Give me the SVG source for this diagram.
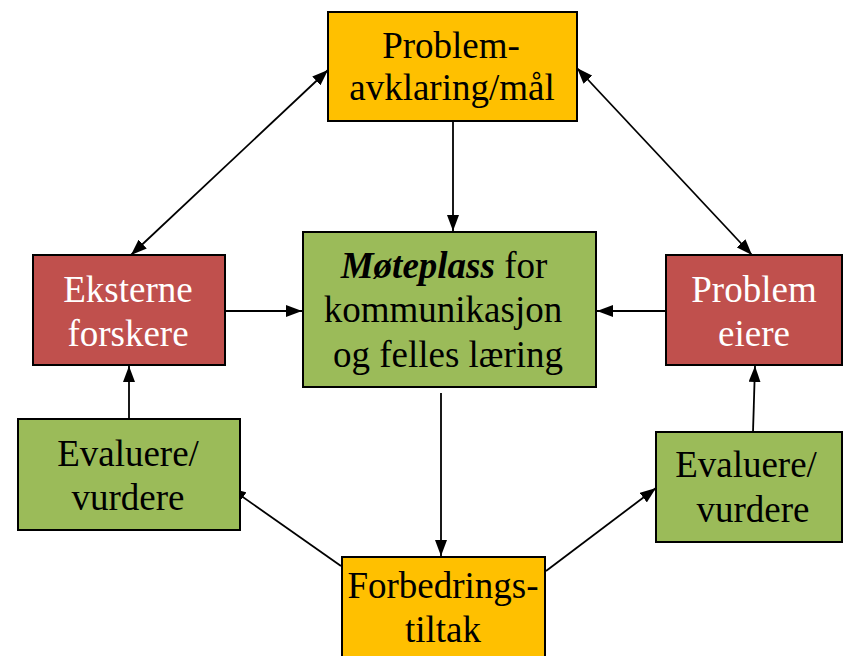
<svg xmlns="http://www.w3.org/2000/svg" width="843" height="656" viewBox="0 0 843 656">
<style>
.box{stroke:#000;stroke-width:2}
.y{fill:#FFC000}.g{fill:#9BBB59}.r{fill:#C0504D}
.w{fill:#fff}
.c{stroke:#000;stroke-width:1.8;fill:none}
</style>
<defs>
<marker id="ah" viewBox="0 0 16 12" refX="16" refY="6" markerWidth="16" markerHeight="12" markerUnits="userSpaceOnUse" orient="auto-start-reverse">
<path d="M0,0 L16,6 L0,12 Z" fill="#000"/>
</marker>
</defs>
<rect width="843" height="656" fill="#fff"/>
<g id="connectors">
<line class="c" x1="328" y1="70" x2="131" y2="255" marker-start="url(#ah)" marker-end="url(#ah)"/>
<line class="c" x1="577" y1="68" x2="752" y2="255" marker-start="url(#ah)" marker-end="url(#ah)"/>
<line class="c" x1="453" y1="122" x2="453" y2="231" marker-end="url(#ah)"/>
<line class="c" x1="226" y1="311" x2="302" y2="311" marker-end="url(#ah)"/>
<line class="c" x1="666" y1="311" x2="597" y2="311" marker-end="url(#ah)"/>
<line class="c" x1="441" y1="393" x2="441" y2="556" marker-end="url(#ah)"/>
<line class="c" x1="129" y1="419" x2="129" y2="366" marker-end="url(#ah)"/>
<line class="c" x1="753" y1="432" x2="755" y2="366" marker-end="url(#ah)"/>
<line class="c" x1="341" y1="566" x2="230" y2="488" marker-end="url(#ah)"/>
<line class="c" x1="546" y1="571" x2="656" y2="488" marker-end="url(#ah)"/>
</g>
<g font-family="'Liberation Serif', 'Times New Roman', 'DejaVu Serif', serif" font-size="37" text-anchor="middle" fill="#000">
<g id="problemavklaring">
<rect class="box y" x="328" y="12" width="249" height="109"/>
<text x="451" y="58">Problem-</text>
<text x="452" y="100">avklaring/mål</text>
</g>
<g id="moteplass">
<rect class="box g" x="303" y="232" width="293" height="155"/>
<text x="444" y="278"><tspan font-weight="bold" font-style="italic">Møteplass</tspan> for</text>
<text x="443" y="322">kommunikasjon</text>
<text x="448" y="367">og felles læring</text>
</g>
<g id="eksterne">
<rect class="box r" x="33" y="255" width="192" height="110"/>
<text class="w" x="128" y="302">Eksterne</text>
<text class="w" x="128" y="346">forskere</text>
</g>
<g id="problemeiere">
<rect class="box r" x="666" y="255" width="176" height="110"/>
<text class="w" x="754" y="302">Problem</text>
<text class="w" x="754" y="346">eiere</text>
</g>
<g id="evaluere-left">
<rect class="box g" x="18" y="419" width="222" height="111"/>
<text x="128" y="466">Evaluere/</text>
<text x="128" y="510">vurdere</text>
</g>
<g id="evaluere-right">
<rect class="box g" x="656" y="432" width="186" height="110"/>
<text x="746" y="477">Evaluere/</text>
<text x="753" y="522">vurdere</text>
</g>
<g id="forbedringstiltak">
<rect class="box y" x="342" y="557" width="203" height="104"/>
<text x="443" y="598">Forbedrings-</text>
<text x="443" y="642">tiltak</text>
</g>
</g>
</svg>
